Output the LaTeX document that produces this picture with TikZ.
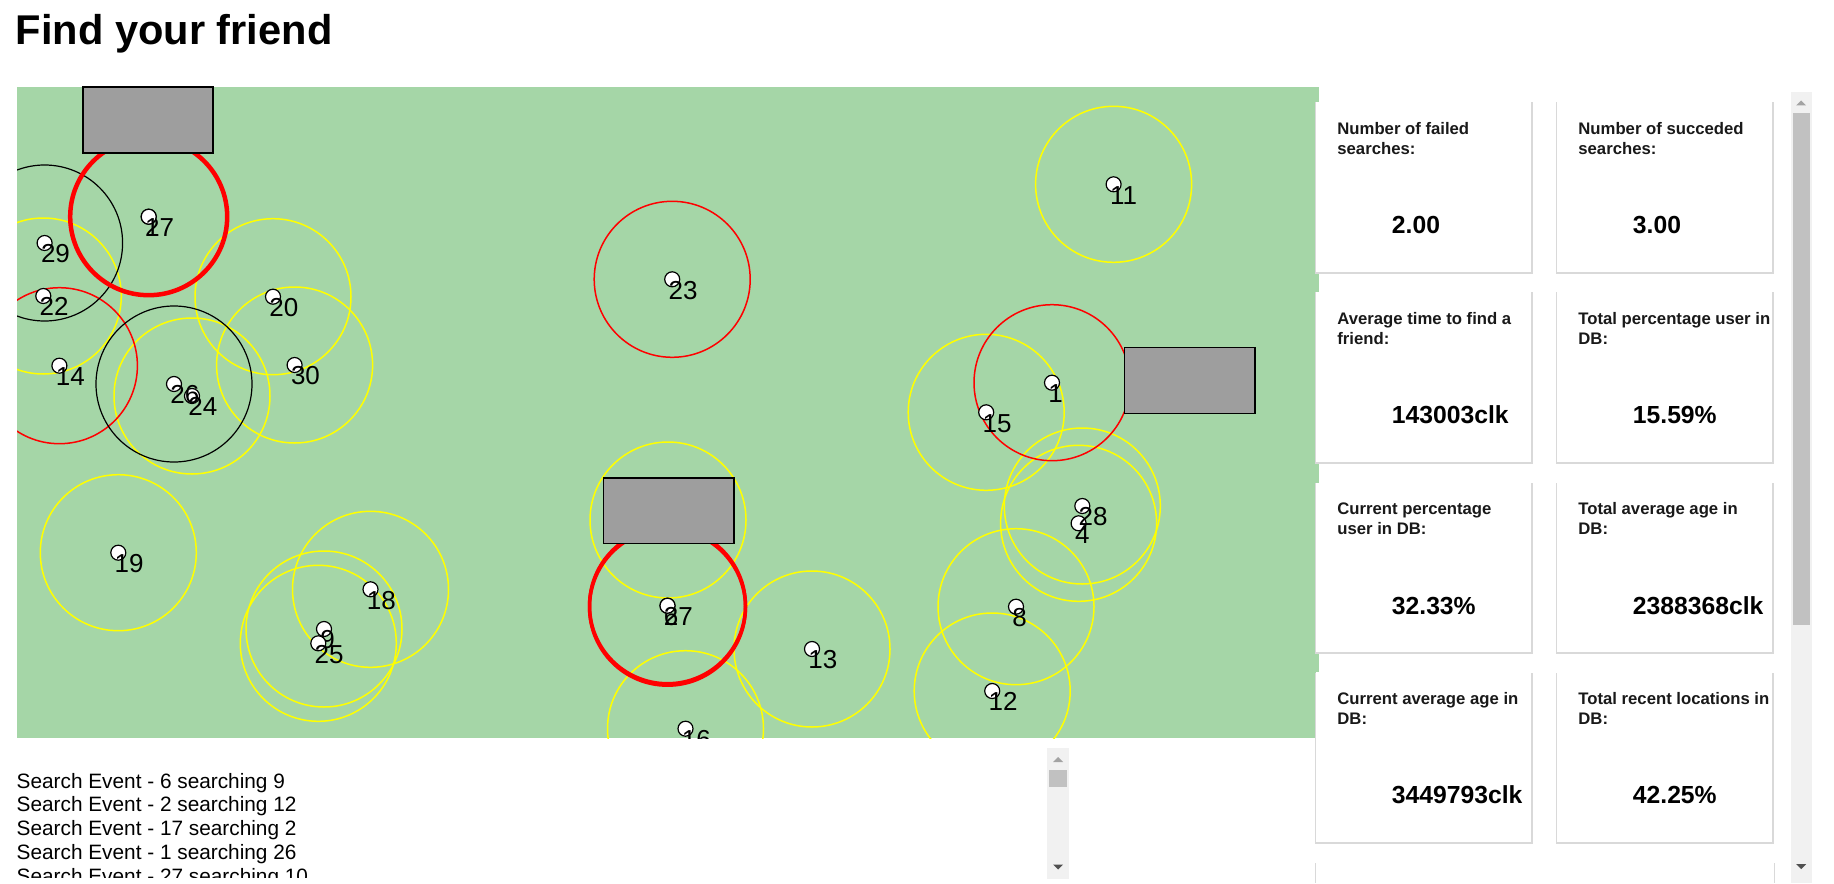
\documentclass[tikz,border=0pt]{standalone}
\usepackage{fontspec}
\setmainfont{Liberation Sans}
\definecolor{mapgreen}{HTML}{A5D6A7}
\definecolor{bldgray}{HTML}{9E9E9E}
\definecolor{rngyellow}{HTML}{FFFF00}
\definecolor{rngred}{HTML}{FF0000}
\definecolor{trackgray}{HTML}{F1F1F1}
\definecolor{thumbgray}{HTML}{C1C1C1}
\definecolor{arrowlight}{HTML}{A3A3A3}
\definecolor{arrowdark}{HTML}{505050}
\newcommand{\statcard}[6]{%
  \fill[cardshadow] (#2-1.5,#3+0.5) rectangle (#2+216.5,#3+172);
  \node[cardbox,anchor=north west] (#1) at (#2,#3) {};
  \path (#1.north west) ++(21,32.6) node[cardtitle] (#1t1) {#4};
  \path (#1.north west) ++(21,52.3) node[cardtitle] (#1t2) {#5};
  \path (#1.north west) ++(75.5,131.8) node[cardvalue] (#1v) {#6};
}
\begin{document}
\begin{tikzpicture}[x=0.5pt,y=-0.5pt,
  yring/.style={draw=rngyellow,line width=0.75pt},
  rring/.style={draw=rngred,line width=0.75pt},
  rringthick/.style={draw=rngred,line width=1.75pt},
  bring/.style={draw=black,line width=0.6pt},
  person/.style={circle,draw=black,fill=white,line width=0.6pt,minimum size=7.5pt,inner sep=0pt},
  plabel/.style={anchor=base west,inner sep=0pt,font=\fontsize{13}{13}\selectfont},
  building/.style={draw=black,fill=bldgray,line width=0.75pt},
  cardbox/.style={fill=white,inner sep=0pt,minimum width=107.5pt,minimum height=84.75pt},
  cardshadow/.style={fill=black!15},
  cardtitle/.style={anchor=base west,inner sep=0pt,text=black!90,font=\bfseries\fontsize{8.35}{9.85}\selectfont},
  cardvalue/.style={anchor=base west,inner sep=0pt,font=\bfseries\fontsize{12.35}{12.35}\selectfont},
  logline/.style={anchor=base west,inner sep=0pt,font=\fontsize{10.4}{12}\selectfont},
  titletext/.style={anchor=base west,inner sep=0pt,font=\bfseries\fontsize{20.8}{24}\selectfont},
]
\useasboundingbox (0,0) rectangle (1834,883);
\fill[white] (0,0) rectangle (1834,883);

% title
\node[titletext] (title) at (15.5,45) {Find your friend};

% map
\fill[mapgreen] (17,87) rectangle (1319,738);

\foreach \id/\x/\y in {1/1052/382.7, 2/148.7/216.7, 4/1078.6/523.3, 6/667.5/605.7,
  8/1016/606.7, 9/324/629, 11/1113.6/184.3, 12/992.2/691, 13/812/649,
  14/59.4/365.7, 15/986.2/412.3, 16/685.5/728.7, 17/148.7/216.7,
  18/370.5/589.3, 19/118.3/552.7, 20/273/296.7, 22/43.3/296, 23/672.2/279.3,
  24/192/396, 25/318.3/643.3, 26/174/384, 27/667.5/605.7, 28/1082.3/506,
  29/44.6/243, 30/294.6/365}
  {\coordinate (c\id) at (\x,\y);}
\coordinate (chidden) at (668,520);

\begin{scope}
  \clip (17,87) rectangle (1319,738);
  % ranges
  \foreach \id in {22,24,20,30,19,18,9,25,hidden,16,13,11,15,28,4,8,12}
    {\draw[yring] (c\id) circle[radius=39pt];}
  \foreach \id in {14,23,1}
    {\draw[rring] (c\id) circle[radius=39pt];}
  \foreach \id in {29,26}
    {\draw[bring] (c\id) circle[radius=39pt];}
  \draw[rringthick] (c2) circle[radius=39pt];
  \draw[rringthick] (c17) circle[radius=39.5pt];
  \draw[rringthick] (c6) circle[radius=39pt];
  \draw[rringthick] (c27) ++(0,1.5) circle[radius=39pt];
  % people
  \foreach \id in {1,2,4,6,8,9,11,12,13,14,15,16,17,18,19,20,22,23,24,25,26,27,28,29,30}
  {
    \node[person] (p\id) at (c\id) {};
    \path (p\id.center) ++(-4,19.7) node[plabel] (l\id) {\id};
  }
\end{scope}

% buildings
\draw[building] (83,87) rectangle (213,153);
\draw[building] (603.5,478) rectangle (734,543.5);
\draw[building] (1124.6,347.7) rectangle (1255.2,413.3);

% cards
\statcard{k1}{1316}{101.7}{Number of failed}{searches:}{2.00}
\statcard{k2}{1557}{101.7}{Number of succeded}{searches:}{3.00}
\statcard{k3}{1316}{291.7}{Average time to find a}{friend:}{143003clk}
\statcard{k4}{1557}{291.7}{Total percentage user in}{DB:}{15.59\%}
\statcard{k5}{1316}{482.3}{Current percentage}{user in DB:}{32.33\%}
\statcard{k6}{1557}{482.3}{Total average age in}{DB:}{2388368clk}
\statcard{k7}{1316}{672}{Current average age in}{DB:}{3449793clk}
\statcard{k8}{1557}{672}{Total recent locations in}{DB:}{42.25\%}
\fill[cardshadow] (1314.5,862.8) rectangle (1775,883);
\fill[white] (1316,862.3) rectangle (1773.5,883);

% log
\begin{scope}
  \clip (0,742) rectangle (1046,877);
  \node[logline] (log1) at (16.3,788.2) {Search Event - 6 searching 9};
  \node[logline] (log2) at (16.3,811.9) {Search Event - 2 searching 12};
  \node[logline] (log3) at (16.3,835.6) {Search Event - 17 searching 2};
  \node[logline] (log4) at (16.3,859.3) {Search Event - 1 searching 26};
  \node[logline] (log5) at (16.3,883) {Search Event - 27 searching 10};
\end{scope}

% log scrollbar
\fill[trackgray] (1047,748) rectangle (1069,879);
\fill[thumbgray] (1049,770) rectangle (1067,787);
\fill[arrowlight] (1053,762) -- (1063,762) -- (1058,757) -- cycle;
\fill[arrowdark] (1053,864.5) -- (1063,864.5) -- (1058,869.5) -- cycle;

% page scrollbar
\fill[trackgray] (1790.6,92.3) rectangle (1811.8,883);
\fill[thumbgray] (1793,113.3) rectangle (1810.4,625);
\fill[arrowlight] (1796.2,105.5) -- (1806.2,105.5) -- (1801.2,100.5) -- cycle;
\fill[arrowdark] (1796.2,864.2) -- (1806.2,864.2) -- (1801.2,869.2) -- cycle;
\end{tikzpicture}
\end{document}
